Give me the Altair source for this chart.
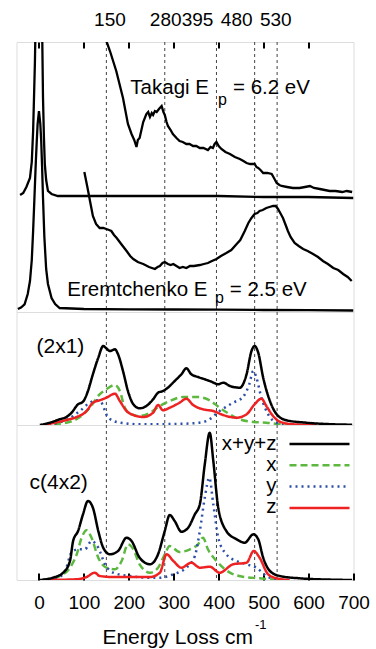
import altair as alt
import pandas as pd

FONT = "Liberation Sans"
XDOM = [-50, 700]
W = 337
H_TOP, H_MID, H_BOT = 270, 113, 155

# ---------------- data: top panel (experiment, arbitrary units) ----------------
tk_el_x = [-42, -35, -28, -20, -16, -13, -11, -9, -6, -3, 0, 3, 6, 9, 11, 13, 16, 20, 28, 42, 100, 200, 300, 400, 500, 600, 700]
tk_el_y = [117, 119, 125, 134, 150, 181, 215, 250, 330, 480, 640, 470, 320, 214, 175, 148, 132, 121, 118, 116, 116, 116, 116, 116, 115, 115, 114]

tk_mag_x = [140, 150, 158, 172, 187, 198, 206, 212, 217, 220, 224, 232, 239, 243, 247, 251, 254, 258, 262, 267, 273, 277,
            280, 284, 287, 293, 298, 306, 313, 320, 328, 335, 343, 350, 358, 366, 376, 382, 387, 391, 395, 400, 406, 415,
            425, 436, 447, 455, 462, 470, 480, 484, 488, 493, 499, 508, 518, 523, 529, 535, 540, 552, 565, 580, 592, 603,
            612, 625, 636, 647, 660, 675, 685, 697]
tk_mag_y = [300, 271, 261, 241, 214, 188, 178, 172, 165, 172, 174, 190, 198, 200, 195, 199, 197, 201, 200, 203, 206, 200,
            197, 190, 186, 182, 178, 174, 171, 170, 168, 168, 166, 166, 164, 164, 162, 165, 164, 168, 170, 166, 163, 160,
            158, 155, 153, 151, 149, 148, 148, 145, 144, 142, 139, 139, 138, 134, 129, 127, 126, 125, 124, 124, 125, 126,
            124, 123, 122, 121, 121, 120, 121, 120]

er_el_x = [-47, -40, -32, -25, -20, -16, -13, -10, -7, -5, -3, 0, 3, 5, 7, 9, 12, 16, 20, 28, 36, 46, 100, 200, 300, 400, 500, 600, 700]
er_el_y = [3, 4.5, 7.7, 18, 31, 52, 81, 115, 150, 170, 188, 201, 188, 171, 145, 114, 75, 43, 28, 14, 8, 4, 3, 2.7, 2.5, 2.3, 2, 1.8, 1.5]

er_mag_x = [101, 105, 109, 114, 120, 127, 135, 143, 150, 156, 161, 167, 173, 183, 195, 203, 210, 220, 232, 245, 258, 264,
            269, 275, 280, 287, 293, 299, 306, 313, 320, 328, 336, 345, 358, 367, 376, 385, 395, 405, 417, 428, 440, 448,
            458, 466, 473, 480, 486, 491, 498, 506, 513, 521, 527, 532, 537, 543, 549, 554, 560, 569, 578, 588, 598, 610,
            621, 632, 643, 655, 666, 677, 687, 696]
er_mag_y = [140, 131, 122, 110, 96, 88, 84, 84, 83, 82, 81, 77, 74, 68, 61, 56, 53, 50, 48, 45, 43, 45,
            46, 49, 50, 48, 47, 48, 46, 44, 45, 44, 46, 46, 47, 48, 49, 51, 53, 56, 59, 62, 68, 72,
            81, 89, 94, 98, 99, 101, 102, 104, 105, 106, 106, 103, 99, 94, 87, 81, 75, 69, 66, 63, 61, 58,
            55, 51, 48, 44, 42, 38, 35, 31]

# ---------------- data: (2x1) ----------------
m_tot_x = [2, 24, 46, 61, 72, 87, 98, 109, 120, 132, 143, 150, 158, 169, 176, 187, 198, 210, 224, 239, 254, 265, 276, 287,
           302, 317, 328, 339, 354, 369, 384, 399, 410, 425, 447, 462, 473, 480, 488, 499, 514, 529, 551, 595, 655, 697]
m_tot_y = [0, 2.3, 5.7, 8, 12, 20.7, 23.3, 34, 50.7, 67.3, 79, 76.7, 74, 75.7, 70.7, 54, 34, 20.7, 16.7, 19, 25.7, 32.3, 34, 37.3,
           44, 50.7, 56.7, 50.7, 48, 45.7, 43.3, 40.7, 42.3, 39, 37.3, 50.7, 74, 79, 72.3, 47.3, 24, 10.7, 4.7, 2.3, 0.7, 0.3]
m_x_x = [9, 61, 91, 113, 135, 150, 169, 180, 191, 206, 224, 247, 269, 291, 321, 351, 380, 402, 425, 447, 477, 506, 536, 566]
m_x_y = [0, 2.3, 8, 17.3, 30.7, 35.7, 40, 34, 17.3, 10.7, 9, 12.3, 19, 24, 28, 28, 24.7, 17.3, 10.7, 5.7, 3, 2.3, 0.7, 0]
m_y_x = [9, 61, 91, 113, 128, 139, 147, 154, 180, 224, 299, 343, 373, 402, 432, 454, 468, 477, 484, 495, 510, 529, 558]
m_y_y = [0, 5, 14, 22.3, 24.7, 22.3, 14, 7.3, 2.3, 0.7, 1, 1.7, 4, 14, 22.3, 28, 40.7, 54, 47.3, 27.3, 10.7, 2.3, 0]
m_z_x = [9, 61, 84, 106, 120, 135, 150, 169, 180, 195, 210, 232, 254, 265, 276, 291, 313, 328, 343, 365, 388, 410, 440,
         462, 480, 495, 506, 521, 536, 566, 618]
m_z_y = [0, 5, 8, 14, 22.3, 24.7, 27.3, 31.3, 24, 14, 10, 8, 12.3, 20, 14.7, 17.3, 22.3, 26.3, 20, 15.7, 14, 10, 7.3,
         10.7, 20.7, 26.3, 19, 9, 3.3, 0.7, 0]

# ---------------- data: c(4x2) ----------------
b_tot_x = [2, 31, 54, 69, 76, 87, 98, 109, 120, 132, 143, 158, 176, 195, 206, 224, 247, 265, 280, 291, 302, 317, 332, 347,
           358, 369, 380, 388, 399, 417, 440, 458, 477, 488, 499, 514, 536, 580, 655, 697]
b_tot_y = [0, 2.3, 7.3, 19, 39, 49, 65.7, 79, 72.3, 49, 32.3, 25.7, 29, 42.3, 39, 22.3, 15.7, 25.7, 49, 65, 59, 48.3, 52.3, 65.7,
           75.7, 115.7, 147.3, 119, 72.3, 49, 40.7, 37.3, 45.7, 40.7, 22.3, 9, 4, 1.7, 0.3, 0]
b_x_x = [9, 46, 69, 84, 95, 106, 117, 132, 150, 169, 184, 198, 210, 224, 247, 265, 280, 291, 313, 336, 354, 365, 376, 395,
         425, 454, 491, 529]
b_x_y = [0, 4, 12.3, 25.7, 42.3, 49.7, 42.3, 22.3, 12.3, 10.7, 19, 35.7, 30.7, 15.7, 7.3, 12.3, 25.7, 34, 28, 30.7, 35.7, 42.3, 30.7, 19,
         7.3, 3.3, 1.7, 0]
b_y_x = [9, 46, 61, 72, 87, 102, 117, 132, 147, 169, 202, 239, 269, 299, 328, 347, 358, 369, 379, 388, 399, 417, 440, 462,
         484, 506, 529, 558]
b_y_y = [0, 3, 12.3, 27.3, 30.7, 30.7, 39, 32.3, 15.7, 6.7, 4, 2.3, 2.3, 5.7, 12.3, 24, 49, 82.3, 102.3, 75.7, 42.3, 25.7, 19, 15.7,
         12.3, 4, 0.7, 0]
b_z_x = [9, 84, 106, 124, 135, 165, 210, 247, 269, 284, 299, 317, 339, 358, 380, 402, 432, 462, 478, 491, 510, 529, 558]
b_z_y = [0, 0.7, 3, 7.3, 4, 3, 3, 3, 7.3, 25.7, 19, 12.3, 17.3, 12.3, 13.3, 7.3, 15.7, 17.3, 29, 22.3, 5.7, 1.7, 0]

# ---------------- reference lines / labels ----------------
vlines = [150, 280, 395, 480, 530]
top_labels = ["150", "280", "395", "480", "530"]
top_label_pos = [158, 282, 353, 440, 527]
series_names = ["x+y+z", "x", "y", "z"]
series_colors = ["#000000", "#5cb83e", "#2c4fa8", "#ee2222"]
series_dash = [[1, 0], [7, 4], [2, 4], [1, 0]]


def df(xs, ys, name):
    return pd.DataFrame({"x": xs, "y": ys, "series": name})


xscale = alt.Scale(domain=XDOM, nice=False, zero=False)

top_axis = alt.Axis(orient="top", values=list(range(0, 700, 100)), labels=False, ticks=True, tickSize=6,
                    offset=-6, domain=False, grid=False, title=None, tickColor="black", tickWidth=2)
bot_axis = alt.Axis(orient="bottom", values=list(range(0, 800, 100)), ticks=True, tickSize=7, offset=-7,
                    domain=False, grid=False, title=None, tickColor="black", tickWidth=2,
                    labelFont=FONT, labelFontSize=19, labelColor="black", labelPadding=13, labelFlush=False)


def xenc(axis, field="x"):
    return alt.X(f"{field}:Q", scale=xscale, axis=axis)


def yenc(h):
    return alt.Y("y:Q", scale=alt.Scale(domain=[0, h], nice=False, zero=False), axis=None)


def vrule(axis):
    return alt.Chart(pd.DataFrame({"x": vlines})).mark_rule(
        strokeDash=[3, 3], strokeWidth=1, color="#444444").encode(x=xenc(axis))


def text(t, x, y, size=20.5, align="left"):
    return alt.Chart(pd.DataFrame({"t": [t]})).mark_text(
        font=FONT, fontSize=size, align=align, baseline="alphabetic", color="black").encode(
        text="t:N", x=alt.value(x), y=alt.value(y))


def curve(d, h, axis, color="#000000", dash=None, width=2.5, interp="monotone"):
    kw = dict(clip=True, strokeWidth=width, color=color, interpolate=interp)
    if dash is not None:
        kw["strokeDash"] = dash
    return alt.Chart(d).mark_line(**kw).encode(x=xenc(axis), y=yenc(h), order="x:Q")


# ---------- top panel ----------
top_layers = [vrule(top_axis)]
for xs, ys, nm in [(tk_el_x, tk_el_y, "tk0"), (tk_mag_x, tk_mag_y, "tk1"),
                   (er_el_x, er_el_y, "er0"), (er_mag_x, er_mag_y, "er1")]:
    top_layers.append(curve(df(xs, ys, nm), H_TOP, top_axis, width=2.3, interp="linear"))
top_layers.append(
    alt.Chart(pd.DataFrame({"x": top_label_pos, "t": top_labels})).mark_text(
        font=FONT, fontSize=19, baseline="alphabetic", align="center", color="black").encode(
        x=xenc(top_axis), y=alt.value(-16), text="t:N"))
top_layers += [
    text("Takagi E", 192.5, 52, align="right"), text("p", 201.5, 62.5, 16), text("= 6.2 eV", 216.5, 52),
    text("Eremtchenko E", 191, 254, 20.5, align="right"), text("p", 198.5, 261, 16), text("= 2.5 eV", 213.3, 254, 20.5),
]
top = alt.layer(*top_layers).properties(width=W, height=H_TOP)

# ---------- middle panel (2x1) ----------
def theory_layers(sets, h, axis):
    out = []
    for (xs, ys), nm, col, dash in sets:
        out.append(curve(df(xs, ys, nm), h, axis, color=col, dash=dash))
    return out


mid_sets = [((m_x_x, m_x_y), "x", series_colors[1], series_dash[1]),
            ((m_y_x, m_y_y), "y", series_colors[2], series_dash[2]),
            ((m_z_x, m_z_y), "z", series_colors[3], series_dash[3]),
            ((m_tot_x, m_tot_y), "x+y+z", series_colors[0], series_dash[0])]
mid = alt.layer(vrule(None), *theory_layers(mid_sets, H_MID, None),
                text("(2x1)", 20, 41, 21)).properties(width=W, height=H_MID)

# ---------- bottom panel c(4x2) ----------
bot_sets = [((b_x_x, b_x_y), "x", series_colors[1], series_dash[1]),
            ((b_y_x, b_y_y), "y", series_colors[2], series_dash[2]),
            ((b_z_x, b_z_y), "z", series_colors[3], series_dash[3]),
            ((b_tot_x, b_tot_y), "x+y+z", series_colors[0], series_dash[0])]

legend_layers = []
for i, (nm, col, dash) in enumerate(zip(series_names, series_colors, series_dash)):
    yy = 19 + i * 21.3
    legend_layers.append(text(nm, 260, yy + 5.5, 20.5, align="right"))
    legend_layers.append(
        alt.Chart(pd.DataFrame({"s": [nm]})).mark_rule(color=col, strokeWidth=2.5, strokeDash=dash).encode(
            x=alt.value(273), x2=alt.value(333), y=alt.value(yy)))

bot = alt.layer(vrule(bot_axis), *theory_layers(bot_sets, H_BOT, bot_axis),
                text("c(4x2)", 13, 64, 21), *legend_layers,
                text("Energy Loss cm", 236.5, 219, 21, align="right"),
                text("-1", 238.5, 204, 13)).properties(width=W, height=H_BOT)

chart = alt.vconcat(top, mid, bot, spacing=0, bounds="flush").resolve_scale(
    x="independent", y="independent").properties(
    padding={"left": 15.5, "top": 10, "right": 5, "bottom": 2}).configure_view(
    stroke="black", strokeWidth=2.5).configure(background="white")

chart.save("out.html", embed_options={"renderer": "svg", "actions": False})
